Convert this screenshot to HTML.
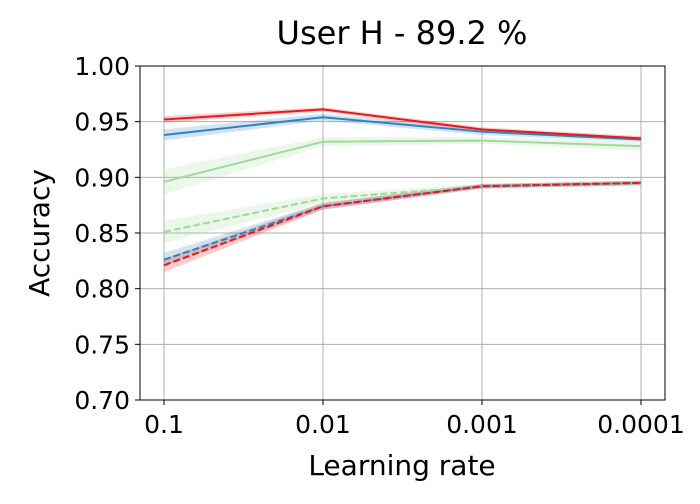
<!DOCTYPE html>
<html><head><meta charset="utf-8"><style>
body{margin:0;background:#fff;font-family:"DejaVu Sans","Liberation Sans",sans-serif}
svg text{font-family:"DejaVu Sans","Liberation Sans",sans-serif}
</style></head><body>
<svg id="chart" width="700" height="500" xmlns="http://www.w3.org/2000/svg">
<text x="402" y="44" font-size="32" text-anchor="middle" fill="#000">User H - 89.2 %</text>
<text x="402" y="475" font-size="28" text-anchor="middle">Learning rate</text>
<text transform="translate(49,233) rotate(-90)" font-size="28" text-anchor="middle">Accuracy</text>
<g id="grid"></g><g id="bands"></g><g id="lines"></g><g id="axes"></g>
</svg>
<script>
const categories=["0.1","0.01","0.001","0.0001"];
const yTicks=[0.70,0.75,0.80,0.85,0.90,0.95,1.00];
const redSolid=[0.952,0.961,0.943,0.935];
const blueSolid=[0.938,0.954,0.941,0.934];
const greenSolid=[0.896,0.932,0.933,0.928];
const greenDashed=[0.851,0.881,0.892,0.894];
const blueDashed=[0.826,0.874,0.892,0.895];
const redDashed=[0.821,0.874,0.892,0.895];
const redSolidErr=[0.003,0.002,0.002,0.002];
const blueSolidErr=[0.005,0.003,0.003,0.002];
const greenSolidErr=[0.011,0.004,0.003,0.004];
const greenDashedErr=[0.010,0.004,0.002,0.002];
const blueDashedErr=[0.006,0.003,0.002,0.002];
const redDashedErr=[0.006,0.003,0.002,0.002];
const L=140,R=665,T=66,B=400;
const x=i=>164+i*(641-164)/(categories.length-1);
const y=v=>B-(v-0.70)/(0.30)*(B-T);
const NS="http://www.w3.org/2000/svg";
function mk(t,a,p){const e=document.createElementNS(NS,t);for(const k in a)e.setAttribute(k,a[k]);p.appendChild(e);return e;}
const grid=document.getElementById('grid'),axes=document.getElementById('axes');
yTicks.forEach(v=>{
 const g=mk('line',{x1:L,x2:R,y1:y(v),y2:y(v),stroke:'#b0b0b0','stroke-width':1},grid);
 
 
 mk('line',{x1:L-5,x2:L,y1:y(v),y2:y(v),stroke:'#000'},axes);
 const t=mk('text',{x:L-10,y:y(v)+9,'font-size':25,'text-anchor':'end'},axes);
 t.textContent=v.toFixed(2);
 
 
});
categories.forEach((c,i)=>{
 const g=mk('line',{x1:x(i),x2:x(i),y1:T,y2:B,stroke:'#b0b0b0','stroke-width':1},grid);
 
 
 mk('line',{x1:x(i),x2:x(i),y1:B,y2:B+5,stroke:'#000'},axes);
 const t=mk('text',{x:x(i),y:B+33,'font-size':25,'text-anchor':'middle'},axes);
 t.textContent=c;
 
 
});
const fr=mk('rect',{x:L,y:T,width:R-L,height:B-T,fill:'none',stroke:'#000','stroke-width':1},axes);


const series=[
 [greenSolid,greenSolidErr,'#a1d99b',false,'green-solid'],
 [greenDashed,greenDashedErr,'#a1d99b',true,'green-dashed'],
 [blueSolid,blueSolidErr,'#3182bd',false,'blue-solid'],
 [blueDashed,blueDashedErr,'#3182bd',true,'blue-dashed'],
 [redSolid,redSolidErr,'#e41a1c',false,'red-solid'],
 [redDashed,redDashedErr,'#e41a1c',true,'red-dashed']];
const bands=document.getElementById('bands'),lines=document.getElementById('lines');
series.forEach(([v,e,col,dash,name])=>{
 let up=v.map((d,i)=>x(i)+','+y(d+e[i])),lo=v.map((d,i)=>x(i)+','+y(d-e[i])).reverse();
 const b=mk('polygon',{points:up.concat(lo).join(' '),fill:col,'fill-opacity':0.22},bands);
 
 
 const a={points:v.map((d,i)=>x(i)+','+y(d)).join(' '),fill:'none',stroke:col,'stroke-width':2};
 if(dash)a['stroke-dasharray']='7,3';
 const l=mk('polyline',a,lines);
 
 
});
</script>
</body></html>
